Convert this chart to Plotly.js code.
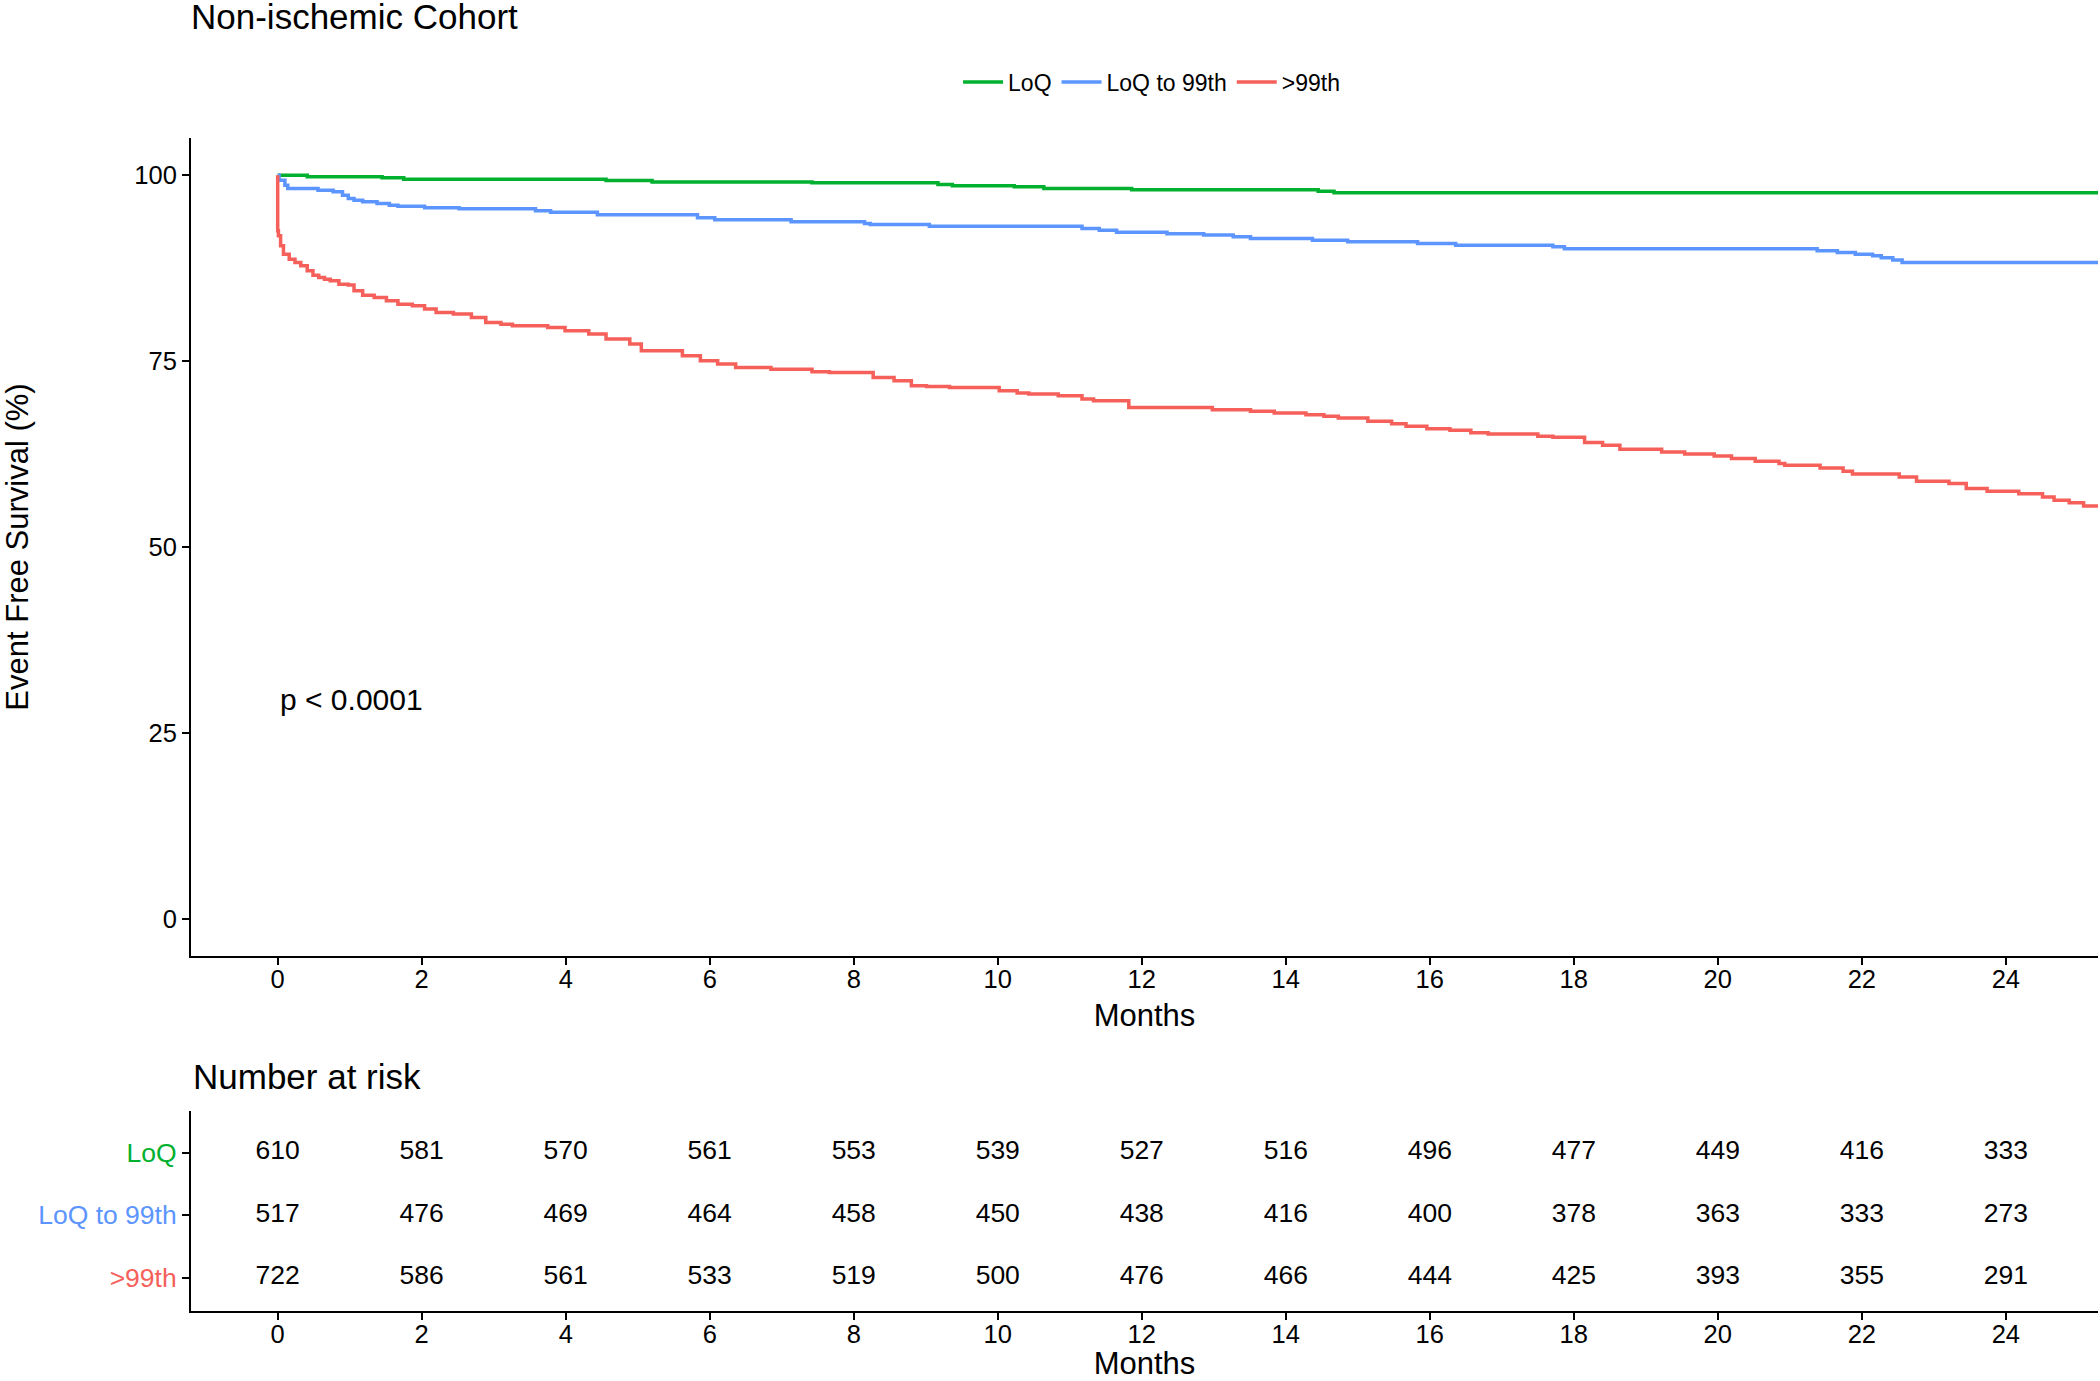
<!DOCTYPE html>
<html>
<head>
<meta charset="utf-8">
<script src="https://cdn.plot.ly/plotly-3.0.1.min.js"></script>
<style>html,body{margin:0;padding:0;background:#fff;}#chart{width:2100px;height:1381px;}</style>
</head>
<body>
<div id="chart"></div>
<script>
// ---- Data ----
const groupNames = ['LoQ', 'LoQ to 99th', '>99th'];
const groupColors = ['#00B02E', '#5C95FF', '#F6605A'];

const loqTime = [0, 0.41, 1.45, 1.75, 4.56, 5.20, 7.42, 9.17, 9.37, 10.23, 10.64, 11.86, 14.45, 14.67, 25.28];
const loqSurv = [100, 99.78, 99.64, 99.46, 99.28, 99.10, 98.97, 98.75, 98.57, 98.43, 98.21, 98.03, 97.85, 97.63, 97.63];

const midTime = [0, 0.02, 0.10, 0.14, 0.56, 0.77, 0.90, 0.98, 1.06, 1.18, 1.38, 1.55, 1.67, 2.04, 2.52, 3.58, 3.79, 4.44, 5.83, 6.07, 7.13, 8.15, 8.23, 9.05, 11.17, 11.41, 11.65, 12.35, 12.86, 13.27, 13.51, 14.37, 14.86, 15.83, 16.36, 17.71, 17.87, 21.38, 21.66, 21.91, 22.15, 22.27, 22.43, 22.56, 25.28];
const midSurv = [100, 99.33, 98.66, 98.21, 97.98, 97.76, 97.31, 96.86, 96.64, 96.42, 96.19, 95.97, 95.83, 95.61, 95.47, 95.21, 95.03, 94.67, 94.27, 94.00, 93.73, 93.50, 93.37, 93.15, 92.83, 92.61, 92.34, 92.14, 91.94, 91.71, 91.49, 91.26, 91.04, 90.82, 90.59, 90.37, 90.10, 89.83, 89.61, 89.38, 89.16, 88.89, 88.58, 88.26, 88.26];

const highTime = [0, 0, 0.01, 0.04, 0.08, 0.16, 0.24, 0.32, 0.41, 0.49, 0.57, 0.65, 0.73, 0.85, 0.98, 1.06, 1.18, 1.34, 1.51, 1.67, 1.87, 2.04, 2.20, 2.44, 2.69, 2.89, 3.10, 3.26, 3.75, 3.99, 4.32, 4.56, 4.89, 5.05, 5.62, 5.87, 6.11, 6.36, 6.85, 7.42, 7.66, 8.27, 8.56, 8.80, 9.01, 9.33, 10.02, 10.27, 10.43, 10.84, 11.17, 11.33, 11.82, 12.98, 13.51, 13.84, 14.28, 14.53, 14.73, 15.14, 15.47, 15.67, 15.96, 16.28, 16.57, 16.81, 17.50, 17.71, 18.15, 18.40, 18.64, 19.22, 19.54, 19.95, 20.19, 20.52, 20.85, 20.93, 21.42, 21.74, 21.87, 22.52, 22.76, 23.21, 23.45, 23.74, 24.18, 24.51, 24.67, 24.88, 25.08, 25.28];
const highSurv = [100, 92.52, 91.85, 90.50, 89.38, 88.71, 88.26, 87.81, 87.14, 86.56, 86.25, 86.02, 85.80, 85.35, 85.22, 84.46, 83.87, 83.56, 83.11, 82.66, 82.44, 81.99, 81.54, 81.32, 80.87, 80.20, 79.97, 79.75, 79.53, 79.08, 78.63, 77.96, 77.29, 76.39, 75.72, 75.04, 74.60, 74.15, 73.92, 73.57, 73.48, 72.81, 72.36, 71.68, 71.59, 71.46, 71.01, 70.70, 70.56, 70.34, 69.89, 69.67, 68.77, 68.47, 68.25, 68.02, 67.80, 67.58, 67.35, 66.91, 66.59, 66.23, 65.92, 65.69, 65.38, 65.20, 64.89, 64.75, 64.04, 63.68, 63.14, 62.78, 62.51, 62.25, 61.89, 61.53, 61.22, 60.99, 60.63, 60.19, 59.83, 59.42, 58.84, 58.53, 57.87, 57.50, 57.18, 56.74, 56.29, 55.97, 55.53, 55.53];

const riskTimes = [0, 2, 4, 6, 8, 10, 12, 14, 16, 18, 20, 22, 24];
const riskLoQ  = [610, 581, 570, 561, 553, 539, 527, 516, 496, 477, 449, 416, 333];
const riskMid  = [517, 476, 469, 464, 458, 450, 438, 416, 400, 378, 363, 333, 273];
const riskHigh = [722, 586, 561, 533, 519, 500, 476, 466, 444, 425, 393, 355, 291];

const yTicks = [0, 25, 50, 75, 100];
const pText = 'p < 0.0001';

// ---- Traces ----
const curves = [[loqTime, loqSurv], [midTime, midSurv], [highTime, highSurv]];
const traces = curves.map((c, i) => ({
  type: 'scatter', mode: 'lines', x: c[0], y: c[1],
  name: groupNames[i], xaxis: 'x', yaxis: 'y',
  line: {color: groupColors[i], width: 3.5, shape: 'hv'},
  hoverinfo: 'skip'
}));

const riskRows = [riskLoQ, riskMid, riskHigh];
const rowPos = [3, 2, 1];
riskRows.forEach((r, i) => {
  traces.push({
    type: 'scatter', mode: 'text', x: riskTimes, y: riskTimes.map(() => rowPos[i]),
    text: r.map(String), textposition: 'middle center',
    textfont: {size: 26.5, color: 'black'},
    xaxis: 'x2', yaxis: 'y2', showlegend: false, cliponaxis: false, hoverinfo: 'skip'
  });
});

const axisCommon = {
  showline: true, linewidth: 2, linecolor: 'black', mirror: false,
  ticks: 'outside', ticklen: 7, tickwidth: 2, tickcolor: 'black',
  showgrid: false, zeroline: false, tickfont: {size: 25.5, color: 'black'}
};
const xr = [-1.204, 25.28];

const layout = {
  width: 2100, height: 1381,
  margin: {l: 191, r: 2, t: 138, b: 70},
  paper_bgcolor: 'white', plot_bgcolor: 'white',
  font: {family: 'Liberation Sans, Arial, Helvetica, sans-serif', color: 'black'},
  title: {text: 'Non-ischemic Cohort', font: {size: 35, color: 'black'},
          xref: 'container', yref: 'container', x: 191 / 2100, xanchor: 'left',
          y: 1 - 17 / 1381, yanchor: 'middle'},
  showlegend: true,
  legend: {orientation: 'h', x: 0.5037, xanchor: 'center', y: 1.0476, yanchor: 'middle',
           font: {size: 23, color: 'black'}, bgcolor: 'rgba(0,0,0,0)', itemwidth: 40},
  xaxis: Object.assign({}, axisCommon, {
    domain: [0, 1], anchor: 'y', range: xr, tickvals: riskTimes, ticklabelstandoff: -8,
    title: {text: 'Months', font: {size: 31}, standoff: 13}
  }),
  yaxis: Object.assign({}, axisCommon, {
    domain: [0.3026, 1], anchor: 'x', range: [-5, 105], tickvals: yTicks,
    title: {text: 'Event Free Survival (%)', font: {size: 31}, standoff: 109}
  }),
  xaxis2: Object.assign({}, axisCommon, {
    domain: [0, 1], anchor: 'y2', range: xr, tickvals: riskTimes, ticklabelstandoff: -8,
    title: {text: 'Months', font: {size: 31}, standoff: 20}
  }),
  yaxis2: Object.assign({}, axisCommon, {
    domain: [0, 0.1705], anchor: 'x2', range: [0.464, 3.664], tickvals: rowPos,
    ticktext: groupNames.map((g, i) => '<span style="color:' + groupColors[i] + '">' + g.replace('>', '&gt;') + '</span>'),
    tickfont: {size: 26.5}
  }),
  annotations: [
    {text: pText, xref: 'x', yref: 'y', x: 0, y: 29.5, xanchor: 'left', yanchor: 'middle',
     showarrow: false, font: {size: 30, color: 'black'}},
    {text: 'Number at risk', xref: 'paper', yref: 'paper', x: 0, y: 0.2003, xanchor: 'left', yanchor: 'middle',
     showarrow: false, font: {size: 35, color: 'black'}}
  ]
};

Plotly.newPlot('chart', traces, layout, {staticPlot: true, displayModeBar: false});
</script>
</body>
</html>
